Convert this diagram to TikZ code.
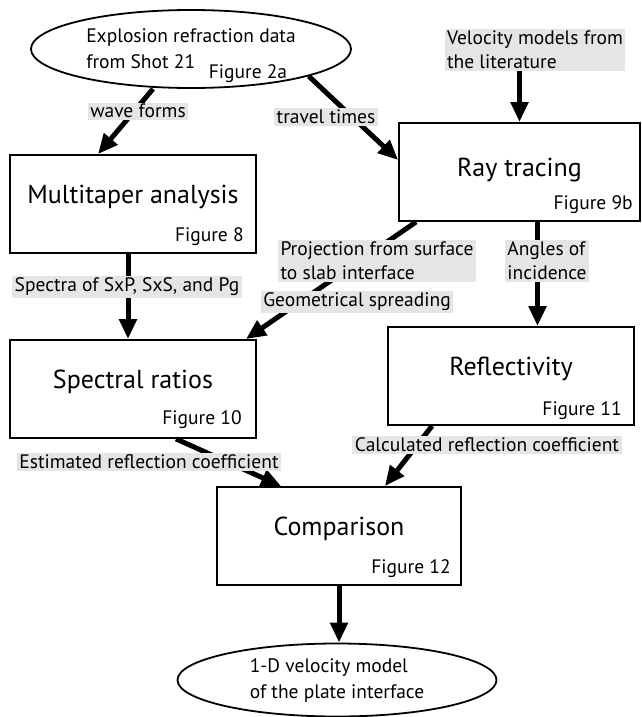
\documentclass[tikz,border=0pt]{standalone}
\usepackage{fontspec}
\setmainfont{PT Sans}
\usetikzlibrary{arrows.meta,shapes.geometric,positioning}

\tikzset{
  stepbox/.style={draw, line width=1.8pt, minimum width=246pt, minimum height=98pt,
    inner sep=0pt, font=\fontsize{26}{30}\selectfont, text height=18pt, text depth=19pt},
  oval/.style={ellipse, draw, line width=1.8pt, align=left, inner sep=0pt,
    font=\fontsize{19.5}{26}\selectfont},
  tag/.style={inner sep=0pt, font=\fontsize{19.5}{22}\selectfont},
  note/.style={fill=black!10, inner xsep=2.5pt, inner ysep=1.5pt, align=left,
    font=\fontsize{19.5}{24}\selectfont},
  flow/.style={-{Triangle[width=17pt,length=20pt]}, line width=5pt}
}

\begin{document}
\begin{tikzpicture}[x=1pt,y=-1pt]
\useasboundingbox (0,0) rectangle (641,717);
% steps
\node[oval, minimum width=320pt, minimum height=78pt] at (191,49) (explo) {Explosion refraction data\\from Shot 21};
\node[note] at (535,50) (velo) {Velocity models from\\the literature};
\node[stepbox] at (133,204) (multi) {Multitaper analysis};
\node[stepbox, minimum width=241pt, text depth=9pt] at (519.5,172) (ray) {Ray tracing};
\node[stepbox] at (133,389) (spec) {Spectral ratios};
\node[stepbox] at (511,376) (refl) {Reflectivity};
\node[stepbox, minimum width=244pt] at (339,536) (comp) {Comparison};
\node[oval, minimum width=319pt, minimum height=73pt] at (337,680) (result) {1-D velocity model\\of the plate interface};
% figure numbers
\node[tag] at (248,74) (fig2a) {Figure 2a};
\node[tag, above left=8pt and 13pt of multi.south east] (fig8) {Figure 8};
\node[tag, above left=8pt and 8pt of ray.south east] (fig9b) {Figure 9b};
\node[tag, above left=10pt and 15pt of spec.south east] (fig10) {Figure 10};
\node[tag, above left=6pt and 13pt of refl.south east] (fig11) {Figure 11};
\node[tag, above left=8pt and 11pt of comp.south east] (fig12) {Figure 12};
% arrows
\draw[flow] ([xshift=-38pt]explo.south) -- ([xshift=-35pt]multi.north);
\draw[flow] (explo.-13) -- ([yshift=12pt]ray.west);
\draw[flow] (velo.south -| ray.north) -- (ray.north);
\draw[flow] ([xshift=-5pt]multi.south) -- ([xshift=-5pt]spec.north);
\draw[flow] ([xshift=18pt]ray.south west) -- ([xshift=-11pt]spec.north east);
\draw[flow] ([xshift=18pt]ray.south) -- ([xshift=18pt]ray.south |- refl.north);
\draw[flow] ([xshift=43pt]spec.south) -- ([xshift=65pt]comp.north west);
\draw[flow] ([xshift=45pt]refl.south west) -- ([xshift=-77pt]comp.north east);
\draw[flow] (comp.south) -- (comp.south |- result.north);
% labels over the arrows
\node[note] at (138,111) (waves) {wave forms};
\node[note] at (326,117) (times) {travel times};
\node[note] at (377,261) (proj) {Projection from surface\\to slab interface};
\node[note] at (547,261) (angles) {Angles of\\incidence};
\node[note] at (127,287) (spectra) {Spectra of SxP, SxS, and Pg};
\node[note] at (357,302) (geom) {Geometrical spreading};
\node[note] at (487,445) (calc) {Calculated reflection coefficient};
\node[note] at (149,462) (estim) {Estimated reflection coefficient};
\end{tikzpicture}
\end{document}
